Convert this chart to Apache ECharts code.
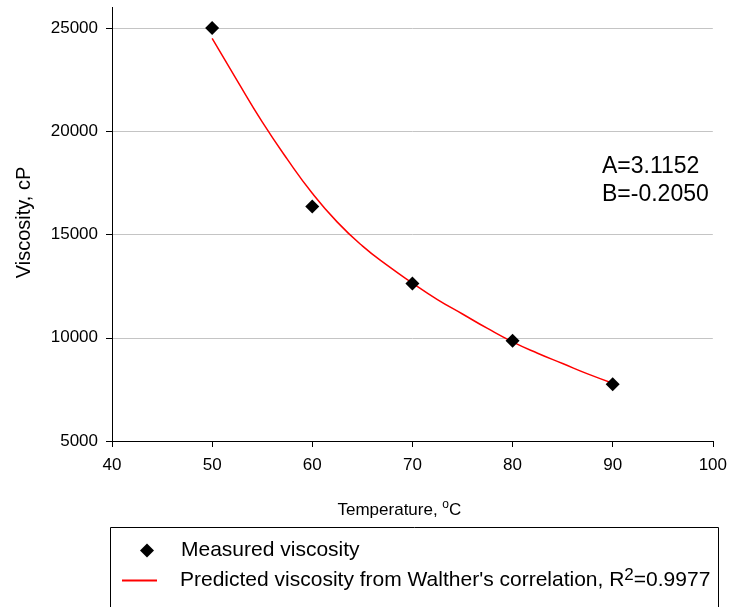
<!DOCTYPE html>
<html>
<head>
<meta charset="utf-8">
<script src="https://cdn.jsdelivr.net/npm/echarts@6/dist/echarts.min.js"></script>
<style>
  html, body { margin: 0; padding: 0; background: #fff; }
  #main { width: 730px; height: 607px; }
</style>
</head>
<body>
<div id="main"></div>
<script>
// measured points
const measuredTemp = [50, 60, 70, 80, 90];
const measuredVisc = [25000, 16350, 12630, 9850, 7750];

// fitted curve
const fitTemp = [50, 52.5, 55, 57.5, 60, 62.5, 65, 67.5, 70, 72.5, 75, 77.5, 80, 82.5, 85, 87.5, 90];
const fitVisc = [24500, 22450, 20450, 18650, 17000, 15600, 14450, 13500, 12650, 11850, 11150, 10450, 9800, 9250, 8750, 8250, 7800];

const xTicks = [40, 50, 60, 70, 80, 90, 100];
const yTicks = [5000, 10000, 15000, 20000, 25000];

const measuredName = 'Measured viscosity';
const fitName = 'Predicted viscosity from Walther\'s correlation';

const font = 'Liberation Sans, Arial, sans-serif';

let option = {
  backgroundColor: '#fff',
  animation: false,
  textStyle: { fontFamily: font, color: '#000' },
  grid: {
    left: 112,
    right: 16,
    top: 28,
    bottom: 166
  },
  xAxis: {
    type: 'value',
    min: xTicks[0],
    max: xTicks[xTicks.length - 1],
    interval: 10,
    name: 'Temperature, {sup|o}C',
    nameLocation: 'middle',
    nameGap: 58,
    nameTextStyle: {
      fontSize: 17, color: '#000', fontFamily: font, padding: [0, 26, 0, 0],
      rich: { sup: { fontSize: 12, verticalAlign: 'top', padding: [0, 0, 10, 0], fontFamily: font, color: '#000' } }
    },
    axisLine: { show: true, onZero: false, lineStyle: { color: '#000', width: 1 } },
    axisTick: { show: true, inside: false, length: 6, lineStyle: { color: '#000' } },
    axisLabel: { fontSize: 17, color: '#000', margin: 16, fontFamily: font },
    splitLine: { show: false }
  },
  yAxis: {
    type: 'value',
    min: yTicks[0],
    max: yTicks[yTicks.length - 1],
    interval: 5000,
    name: 'Viscosity, cP',
    nameLocation: 'middle',
    nameGap: 78,
    nameTextStyle: { fontSize: 20, color: '#000', fontFamily: font, padding: [0, 0, 0, 24] },
    axisLine: { show: true, onZero: false, lineStyle: { color: '#000', width: 1 } },
    axisTick: { show: true, inside: false, length: 6, lineStyle: { color: '#000' } },
    axisLabel: { fontSize: 17, color: '#000', margin: 14, fontFamily: font, formatter: v => String(v) },
    splitLine: { show: true, lineStyle: { color: '#c4c4c4', width: 1 } }
  },
  legend: [
    {
      data: [measuredName],
      left: 140,
      top: 540,
      padding: 0,
      itemWidth: 14,
      itemHeight: 14,
      icon: 'diamond',
      itemStyle: { color: '#000' },
      textStyle: { fontSize: 21, color: '#000', fontFamily: font, padding: [0, 0, 0, 22] }
    },
    {
      data: [fitName],
      left: 122,
      top: 567,
      padding: 0,
      itemWidth: 35,
      itemHeight: 2,
      icon: 'rect',
      itemStyle: { color: '#ff0000' },
      formatter: function (name) { return name + ', R{sup|2}=0.9977'; },
      textStyle: {
        fontSize: 21, color: '#000', fontFamily: font, padding: [0, 0, 0, 18],
        rich: { sup: { fontSize: 17, verticalAlign: 'top', padding: [0, 0, 10, 0], fontFamily: font, color: '#000' } }
      }
    }
  ],
  graphic: [
    // axis line continues a bit above the top tick
    { type: 'line', shape: { x1: 112.5, y1: 7, x2: 112.5, y2: 28 }, style: { stroke: '#000', lineWidth: 1 }, silent: true },
    // legend frame
    { type: 'rect', shape: { x: 110.5, y: 527.5, width: 608, height: 100 }, style: { fill: 'none', stroke: '#000', lineWidth: 1 }, silent: true },
    // fit parameters
    { type: 'text', left: 602, top: 153, style: { text: 'A=3.1152\nB=-0.2050', font: '23px ' + font, fill: '#000', lineHeight: 28 }, silent: true }
  ],
  series: [
    {
      name: fitName,
      type: 'line',
      data: fitTemp.map((t, i) => [t, fitVisc[i]]),
      smooth: true,
      showSymbol: false,
      symbol: 'none',
      lineStyle: { color: '#ff0000', width: 1.5 },
      itemStyle: { color: '#ff0000' },
      z: 2
    },
    {
      name: measuredName,
      type: 'scatter',
      data: measuredTemp.map((t, i) => [t, measuredVisc[i]]),
      symbol: 'diamond',
      symbolSize: 14,
      itemStyle: { color: '#000', opacity: 1 },
      z: 3
    }
  ]
};

let myChart = echarts.init(document.getElementById('main'));
myChart.setOption(option);
</script>
</body>
</html>
